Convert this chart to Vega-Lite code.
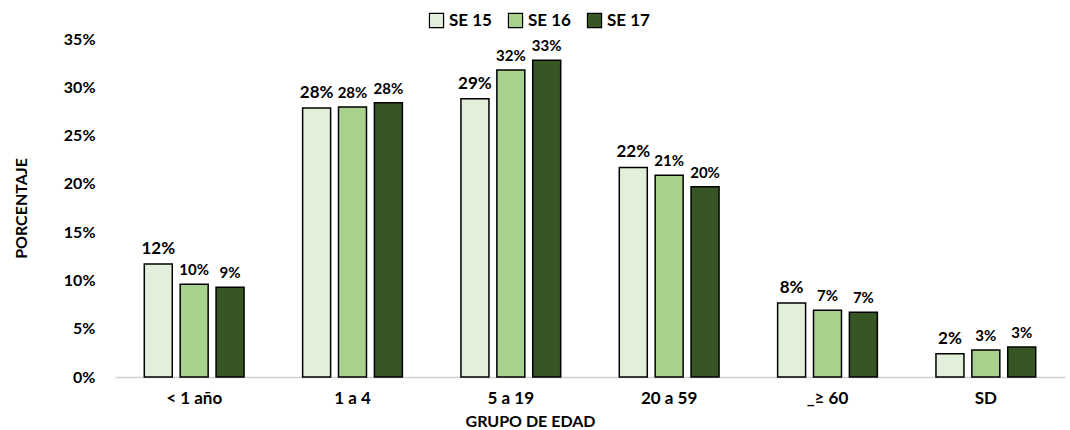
{
  "$schema": "https://vega.github.io/schema/vega-lite/v6.json",
  "autosize": "none",
  "width": 950,
  "height": 338,
  "padding": {"left": 115, "top": 39, "right": 5, "bottom": 53},
  "background": "white",
  "config": {
    "view": {"stroke": null},
    "font": "Lato",
    "axis": {"grid": false, "ticks": false, "labelFont": "Lato", "titleFont": "Lato", "labelFontWeight": "bold", "titleFontWeight": "bold", "labelColor": "#000000", "titleColor": "#000000"}
  },
  "data": {
    "values": [
      {"grupo": "< 1 año", "serie": "SE 15", "valor": 0.117},
      {"grupo": "< 1 año", "serie": "SE 16", "valor": 0.096},
      {"grupo": "< 1 año", "serie": "SE 17", "valor": 0.093},
      {"grupo": "1 a 4", "serie": "SE 15", "valor": 0.2785},
      {"grupo": "1 a 4", "serie": "SE 16", "valor": 0.2795},
      {"grupo": "1 a 4", "serie": "SE 17", "valor": 0.284},
      {"grupo": "5 a 19", "serie": "SE 15", "valor": 0.288},
      {"grupo": "5 a 19", "serie": "SE 16", "valor": 0.318},
      {"grupo": "5 a 19", "serie": "SE 17", "valor": 0.328},
      {"grupo": "20 a 59", "serie": "SE 15", "valor": 0.217},
      {"grupo": "20 a 59", "serie": "SE 16", "valor": 0.209},
      {"grupo": "20 a 59", "serie": "SE 17", "valor": 0.197},
      {"grupo": "_≥ 60", "serie": "SE 15", "valor": 0.0765},
      {"grupo": "_≥ 60", "serie": "SE 16", "valor": 0.069},
      {"grupo": "_≥ 60", "serie": "SE 17", "valor": 0.067},
      {"grupo": "SD", "serie": "SE 15", "valor": 0.024},
      {"grupo": "SD", "serie": "SE 16", "valor": 0.028},
      {"grupo": "SD", "serie": "SE 17", "valor": 0.031}
    ]
  },
  "encoding": {
    "x": {
      "field": "grupo", "type": "nominal", "sort": null,
      "scale": {"paddingInner": 0.37, "paddingOuter": 0.185},
      "axis": {"title": "GRUPO DE EDAD", "labelAngle": 0, "labelFontSize": 17, "titleFontSize": 16, "labelPadding": 13, "titlePadding": 7, "titleX": 415, "titleAnchor": "middle", "domainColor": "#d0d0d0", "domainWidth": 1.5}
    },
    "xOffset": {"field": "serie", "type": "nominal", "scale": {"domain": ["SE 15", "SE 16", "SE 17"], "paddingInner": 0.22, "paddingOuter": 0}},
    "y": {
      "field": "valor", "type": "quantitative",
      "scale": {"domain": [0, 0.35]},
      "axis": {"title": "PORCENTAJE", "format": ".0%", "values": [0, 0.05, 0.1, 0.15, 0.2, 0.25, 0.3, 0.35], "domain": false, "labelFontSize": 16, "titleFontSize": 16, "labelPadding": 20, "titlePadding": 34}
    }
  },
  "layer": [
    {
      "mark": {"type": "bar", "stroke": "#000000", "strokeWidth": 1.5},
      "encoding": {
        "color": {
          "field": "serie", "type": "nominal",
          "scale": {"domain": ["SE 15", "SE 16", "SE 17"], "range": ["#E2EFDA", "#A9D18E", "#375623"]},
          "legend": {"title": null, "orient": "none", "direction": "horizontal", "legendX": 313, "legendY": -27, "symbolType": "square", "symbolSize": 200, "symbolStrokeColor": "#000000", "symbolStrokeWidth": 1.2, "labelFontSize": 17, "labelFontWeight": "bold", "labelFont": "Lato", "labelColor": "#000000", "columnPadding": 14, "labelOffset": 4}
        }
      }
    },
    {
      "transform": [{"filter": "datum.serie == 'SE 15'"}],
      "mark": {"type": "text", "baseline": "bottom", "dy": -6, "fontWeight": "bold", "fontSize": 17, "color": "#000000"},
      "encoding": {
        "text": {"field": "valor", "type": "quantitative", "format": ".0%"}
      }
    },
    {
      "transform": [{"filter": "datum.serie != 'SE 15'"}],
      "mark": {"type": "text", "baseline": "bottom", "dy": -6, "fontWeight": "bold", "fontSize": 15, "color": "#000000"},
      "encoding": {
        "text": {"field": "valor", "type": "quantitative", "format": ".0%"}
      }
    }
  ]
}
